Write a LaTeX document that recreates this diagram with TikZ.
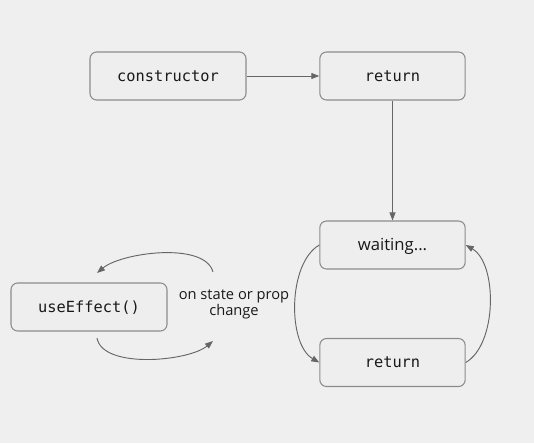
\documentclass[tikz,border=0pt]{standalone}
\usepackage{fontspec}
\setmainfont{Open Sans}
\setmonofont{DejaVu Sans Mono}
\usetikzlibrary{arrows.meta}
\definecolor{paper}{HTML}{EFEFEF}
\definecolor{boxfill}{HTML}{EEEEEE}
\definecolor{boxline}{HTML}{8C8C8C}
\definecolor{flowline}{HTML}{666666}
\tikzset{
  stage/.style={draw=boxline,fill=boxfill,line width=0.8pt,rounded corners=5pt,minimum height=36pt,text height=9pt,text depth=1.5pt,font=\ttfamily\fontsize{11.5}{13}\selectfont,text=black!90},
  flow/.style={draw=flowline,line width=0.7pt,-{Triangle[length=6pt,width=4.5pt]}},
}
\begin{document}
\begin{tikzpicture}[x=0.75pt,y=-0.75pt]
% Canvas
\fill[paper] (0,0) rectangle (534,443);
% States
\node[stage,minimum width=117pt] (constructor) at (168,76) {constructor};
\node[stage,minimum width=109pt] (return-first) at (392.5,76) {return};
\node[stage,minimum width=109pt,font=\fontsize{12.5}{14}\selectfont] (waiting) at (392.5,245) {waiting...};
\node[stage,minimum width=109pt] (return-again) at (392.5,362.5) {return};
\node[stage,minimum width=117pt] (use-effect) at (89,307) {useEffect()};
\node[align=center,font=\fontsize{11}{12}\selectfont,text=black!90] (trigger) at (234,304) {on state or prop\\change};
% Arrows
\draw[flow] (constructor) -- (return-first);
\draw[flow] (return-first) -- (waiting);
\draw[flow] (waiting.west) to[out=210,in=150,looseness=0.8] (return-again.west);
\draw[flow] (return-again.east) to[out=30,in=-30,looseness=0.8] (waiting.east);
% Loop round useEffect
\draw[flow] ([shift={(-21,-32)}]trigger.center) to[out=105,in=40,looseness=0.7] ([shift={(8,-34)}]use-effect.center);
\draw[flow] ([shift={(8,31)}]use-effect.center) to[out=-80,in=-140,looseness=0.7] ([shift={(-21,37)}]trigger.center);
\end{tikzpicture}
\end{document}
